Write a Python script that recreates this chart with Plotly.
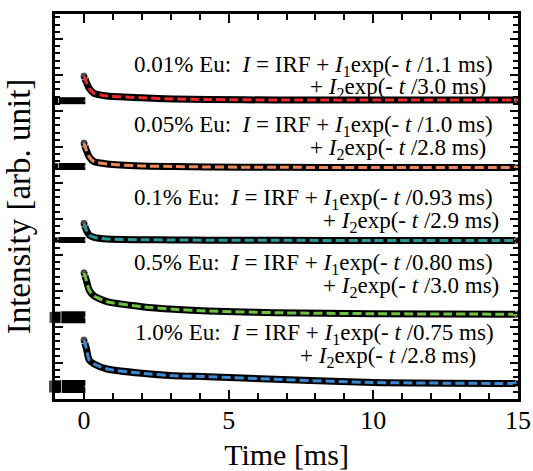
import plotly.graph_objects as go

# ---- data (arb. units) ----
labels = ["0.01%", "0.05%", "0.1%", "0.5%", "1.0%"]
tau1 = ["1.1", "1.0", "0.93", "0.80", "0.75"]
tau2 = ["3.0", "2.8", "2.9", "3.0", "2.8"]

t_pre = [-1.0, 0.05]
t_decay = [0, 0.08, 0.18, 0.35, 0.8, 2.0, 3.1, 4.3, 6.6, 10, 15]

base_001 = 298.3
base_005 = 232.5
base_01 = 159.0
base_05 = 81.7
base_10 = 12.5

decay_001 = [323, 317, 310.7, 305.7, 303, 301.3, 300, 299.5, 299, 299, 299]
decay_005 = [256, 249, 242.3, 237.3, 235, 233, 232.5, 232, 231.7, 231.5, 231.5]
decay_01 = [175.7, 169, 164, 161.7, 160, 159.3, 159, 158.8, 158.7, 158.5, 158.5]
decay_05 = [126.3, 119, 109, 103, 97.3, 92.3, 89.7, 88, 86.3, 85.3, 84.8]
decay_10 = [59, 51, 39, 35, 30, 25.7, 23.3, 22.3, 19.7, 16.5, 15.5]

bases = [base_001, base_005, base_01, base_05, base_10]
decays = [decay_001, decay_005, decay_01, decay_05, decay_10]

# ---- styles ----
colors = ["#ec2a2a", "#f2875a", "#2b9696", "#6cc23e", "#3a88d2"]
pre_width = [7, 7, 6, 12, 13]
FONT = "Liberation Serif, Times New Roman, serif"

fig = go.Figure()
for i in range(5):
    # pre-trigger background band
    fig.add_trace(go.Scatter(
        x=t_pre, y=[bases[i], bases[i]], mode="lines+markers",
        line=dict(color="black", width=pre_width[i]),
        marker=dict(color="black", size=[pre_width[i], 1], symbol="square"),
        cliponaxis=False, showlegend=False, hoverinfo="skip"))
    # measured decay (thick black band)
    fig.add_trace(go.Scatter(
        x=t_decay, y=decays[i], mode="lines",
        line=dict(color="black", width=7, shape="spline", smoothing=0.6),
        cliponaxis=False, showlegend=False, hoverinfo="skip"))
    fig.add_trace(go.Scatter(
        x=[t_decay[0], t_decay[-1]], y=[decays[i][0], decays[i][-1]], mode="markers",
        marker=dict(color="black", size=[8, 7]),
        cliponaxis=False, showlegend=False, hoverinfo="skip"))
    # fit (dashed coloured line)
    fig.add_trace(go.Scatter(
        x=t_decay, y=decays[i], mode="lines",
        line=dict(color=colors[i], width=3, dash="9px,4px", shape="spline", smoothing=0.6),
        showlegend=False, hoverinfo="skip"))

# annotation positions (data coords)
line1_y = [333.5, 273.5, 200.5, 135.5, 65.5]
line2_y = [311.5, 250.5, 177.5, 112.5, 42.5]
line1_x = [1.65, 1.65, 1.65, 1.65, 1.7]
line2_x = [7.75, 7.75, 8.2, 8.2, 7.4]

nb = "\u00a0"
for i in range(5):
    l1 = (f"{labels[i]} Eu:{nb}{nb}<i>I</i> = IRF + <i>I</i><sub>1</sub>exp(- <i>t</i> /{tau1[i]} ms)")
    l2 = (f"+ <i>I</i><sub>2</sub>exp(- <i>t</i> /{tau2[i]} ms)")
    fig.add_annotation(x=line1_x[i], y=line1_y[i], text=l1, showarrow=False,
                       xanchor="left", yanchor="middle",
                       font=dict(family=FONT, size=23, color="black"))
    fig.add_annotation(x=line2_x[i], y=line2_y[i], text=l2, showarrow=False,
                       xanchor="left", yanchor="middle",
                       font=dict(family=FONT, size=23, color="black"))

fig.update_xaxes(
    range=[-1, 15], tickvals=[0, 5, 10, 15], ticktext=["0", "5", "10", "15"],
    ticks="inside", ticklen=9, tickwidth=2, tickcolor="black",
    minor=dict(dtick=1, ticks="inside", ticklen=6, tickwidth=2, tickcolor="black"),
    showline=True, linewidth=3, linecolor="black", mirror="ticks",
    showgrid=False, zeroline=False, automargin=False,
    tickfont=dict(family=FONT, size=26, color="black"), ticklabelstandoff=-4,
    title=dict(text="Time [ms]", font=dict(family=FONT, size=30, color="black"), standoff=16))
fig.update_yaxes(
    range=[0, 385], tick0=0, dtick=36, showticklabels=False,
    ticks="inside", ticklen=8, tickwidth=2, tickcolor="black",
    minor=dict(dtick=7.2, ticks="inside", ticklen=5, tickwidth=2, tickcolor="black"),
    showline=True, linewidth=3, linecolor="black", mirror="ticks",
    showgrid=False, zeroline=False, automargin=False,
    title=dict(text="Intensity [arb. unit]", font=dict(family=FONT, size=33, color="black"), standoff=12))

fig.update_layout(
    width=533, height=471,
    margin=dict(l=55, r=15, t=14, b=72),
    paper_bgcolor="white", plot_bgcolor="white")

fig.write_html("out.html", config={"displayModeBar": False},
               post_script="document.body.style.margin='0';document.body.style.overflow='hidden';")
